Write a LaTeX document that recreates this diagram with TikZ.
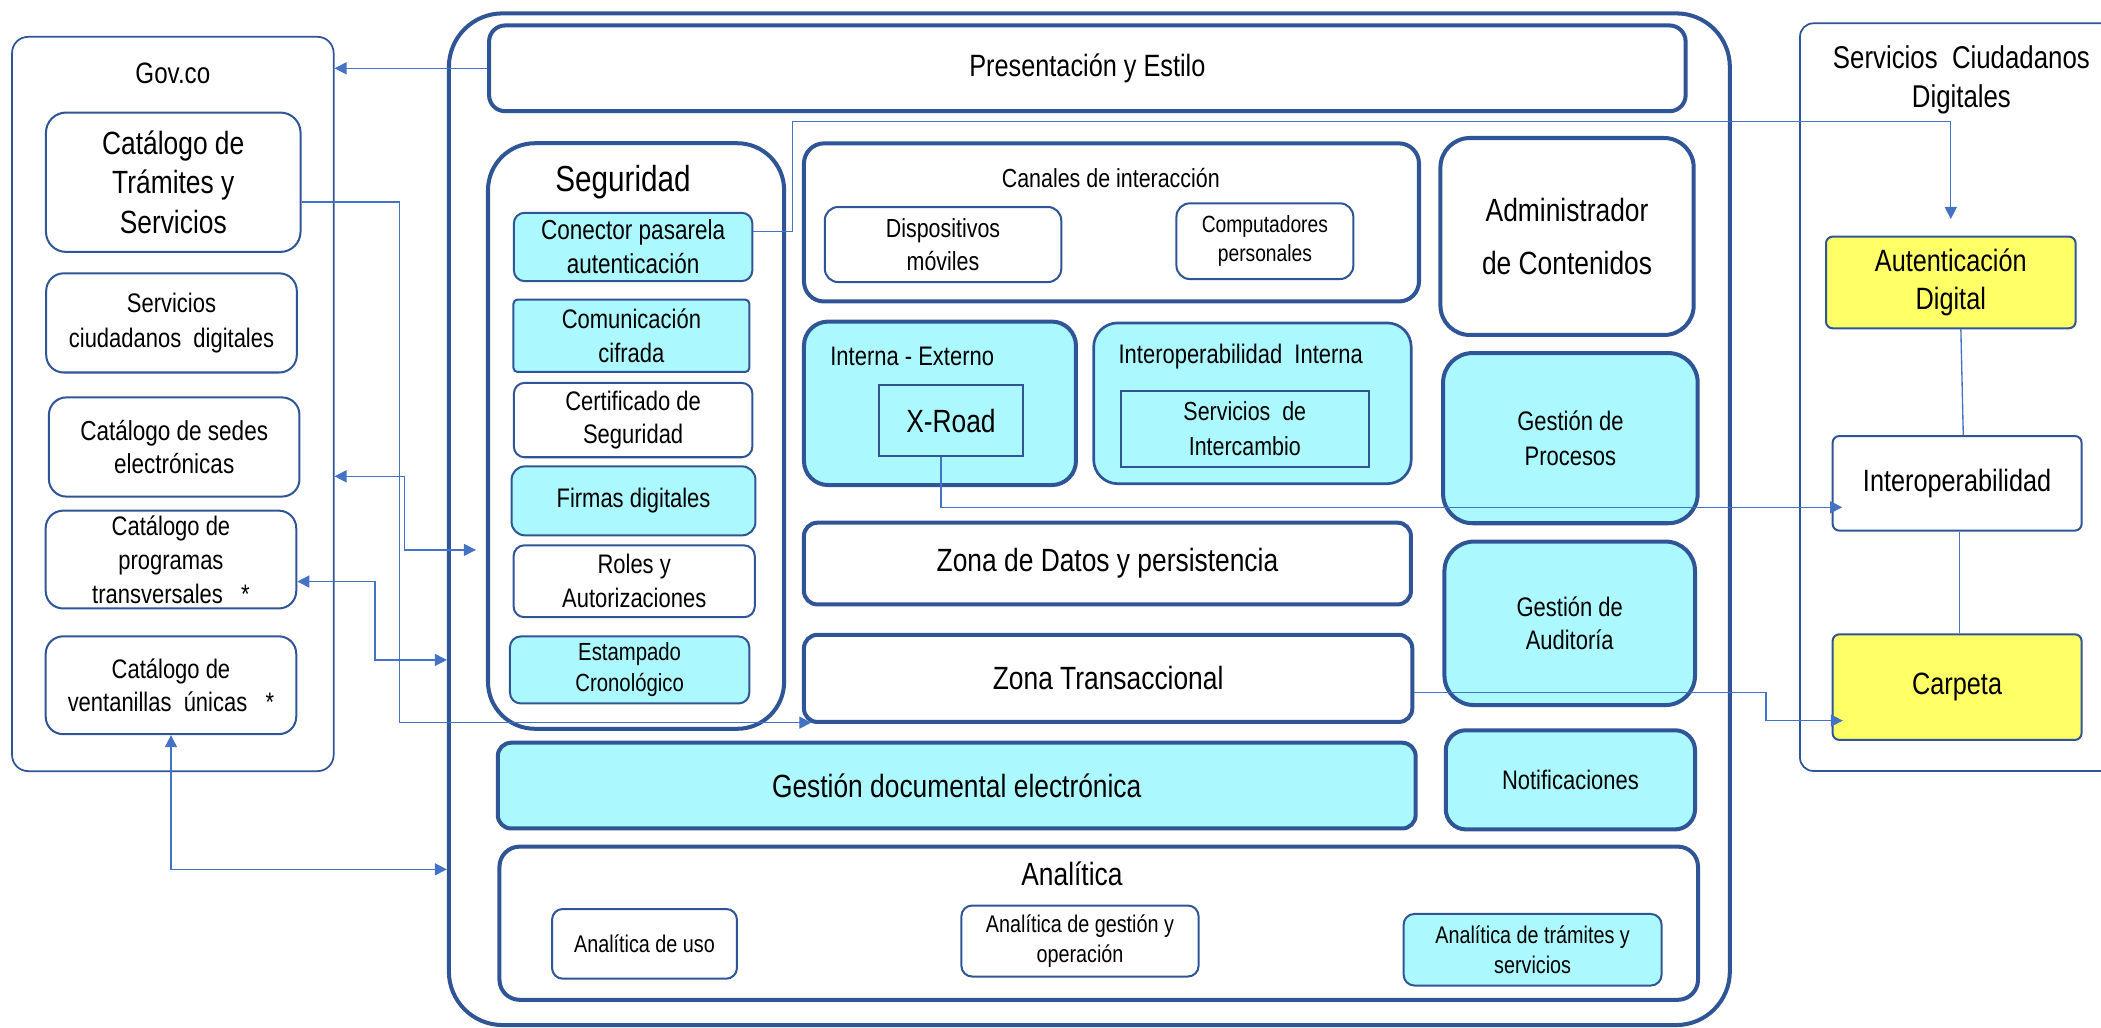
\documentclass[tikz,border=0pt]{standalone}
\usepackage{fontspec}
\setmainfont{Liberation Sans}[FakeStretch=0.82]
\usetikzlibrary{arrows.meta}
\definecolor{borde}{HTML}{2F5597}
\definecolor{linea}{HTML}{4472C4}
\definecolor{celeste}{HTML}{ABF9FF}
\definecolor{amarillo}{HTML}{FFFF66}
\newcommand{\fsz}[2]{\fontsize{#1}{#2}\selectfont}
\tikzset{
  box/.style={draw=borde, line width=1.5pt, rounded corners=8pt, align=center,
    inner sep=0pt, font=\fsz{20}{25}},
  bigbox/.style={box, line width=3pt, rounded corners=12pt, font=\fsz{24}{29}},
  panel/.style={draw=borde, line width=1.3pt, rounded corners=12pt, inner sep=0pt},
  title/.style={align=center, inner sep=0pt},
  tinted/.style={fill=celeste},
  dims/.style 2 args={minimum width=#1, minimum height=#2},
  link/.style={draw=linea, line width=1pt, -{Triangle[length=9pt,width=9pt]}},
  twolink/.style={link, {Triangle[length=9pt,width=9pt]}-{Triangle[length=9pt,width=9pt]}},
  wire/.style={draw=linea, line width=1pt}
}

\begin{document}
\begin{tikzpicture}[x=1pt, y=-1pt]
\clip (0,0) rectangle (1568,767);

% Gov.co
\node[panel, dims={240}{548}] (gov) at (129,301.5) {};
\node[title, font=\fsz{22}{26}] (govtitle) at (129,55) {Gov.co};
\node[box, dims={190}{104}, rounded corners=15pt, font=\fsz{24}{29.5}] (tramites) at (129.3,136) {Catálogo de\\Trámites y\\Servicios};
\node[box, dims={187}{74}, rounded corners=13pt, font=\fsz{20}{26}] (ciudadanos) at (128,241) {Servicios\\ciudadanos\ \ digitales};
\node[box, dims={187}{74}, rounded corners=13pt, font=\fsz{20.5}{25}] (sedes) at (130,333.6) {Catálogo de sedes\\electrónicas};
\node[box, dims={187}{73}, rounded corners=13pt, font=\fsz{20}{25.2}] (programas) at (127.6,417.6) {Catálogo de\\programas\\transversales\ \ \ *};
\node[box, dims={187}{73}, rounded corners=13pt, font=\fsz{20}{24.5}] (ventanillas) at (127.6,511.4) {Catálogo de\\ventanillas\ \ únicas\ \ \ *};

% plataforma
\node[bigbox, dims={956}{755}, rounded corners=40pt] (main) at (813,387.5) {};
\node[bigbox, dims={893}{64}, font=\fsz{23}{28}] (pres) at (811.5,51) {Presentación y Estilo};

% seguridad
\node[bigbox, dims={221}{437}, rounded corners=35pt] (seg) at (474.7,325.4) {};
\node[title, font=\fsz{27}{32}] (segtitle) at (465,135.7) {Seguridad};
\node[box, tinted, dims={178}{51}, font=\fsz{20.5}{25.6}] (conector) at (472.5,184.3) {Conector pasarela\\autenticación};
\node[box, tinted, dims={176}{54}, rounded corners=3pt, font=\fsz{20}{26}] (cifrada) at (471.2,250.6) {Comunicación\\cifrada};
\node[box, dims={178}{55.5}] (certificado) at (472.5,313.5) {Certificado de\\Seguridad};
\node[box, tinted, dims={182}{51.5}, rounded corners=10pt] (firmas) at (472.8,373.8) {Firmas digitales};
\node[box, dims={180}{53.6}, font=\fsz{20}{25.6}] (roles) at (473.3,433.8) {Roles y\\Autorizaciones};
\node[box, tinted, dims={178.6}{50}, font=\fsz{18.5}{23.3}] (estampado) at (469.9,500) {Estampado\\Cronológico};

% canales
\node[bigbox, dims={459}{118}, rounded corners=15pt] (canales) at (829.5,166) {};
\node[title, font=\fsz{19.5}{24}] (canalestitle) at (829,133) {Canales de interacción};
\node[box, dims={176.5}{56}, rounded corners=10pt, font=\fsz{19.5}{25}] (moviles) at (703.8,182.5) {Dispositivos\\móviles};
\node[box, dims={132}{56.5}, rounded corners=10pt, font=\fsz{17.5}{21.5}] (computadores) at (944,180) {Computadores\\personales};

\node[bigbox, dims={189}{147}, rounded corners=22pt, font=\fsz{24}{39}] (admin) at (1169.5,176.5) {Administrador\\de Contenidos};

% interoperabilidad
\node[bigbox, tinted, dims={203}{122}, rounded corners=18pt] (interna) at (701.5,301) {};
\node[title, anchor=west, font=\fsz{20}{24}] (internatitle) at (619.5,266) {Interna - Externo};
\node[box, tinted, dims={108}{53}, rounded corners=0pt, font=\fsz{24}{29}] (xroad) at (709.7,314) {X-Road};
\node[box, tinted, line width=2pt, dims={237}{120}, rounded corners=18pt] (interopint) at (934.7,301) {};
\node[title, font=\fsz{20}{24}] (interoptitle) at (926,266) {Interoperabilidad\ \ Interna};
\node[box, tinted, dims={185}{57}, rounded corners=0pt, font=\fsz{19.5}{26}] (intercambio) at (929,320) {Servicios\ \ de\\Intercambio};

\node[bigbox, tinted, dims={190}{127}, rounded corners=22pt, font=\fsz{20}{26}] (procesos) at (1172,327) {Gestión de\\Procesos};
\node[bigbox, dims={453}{61}, rounded corners=10pt] (datos) at (826.5,420.6) {Zona de Datos y persistencia};
\node[bigbox, tinted, dims={187}{122}, rounded corners=22pt, font=\fsz{20}{25}] (auditoria) at (1171.5,465.2) {Gestión de\\Auditoría};
\node[bigbox, dims={454}{65}, rounded corners=10pt] (zonatrans) at (827,506.3) {Zona Transaccional};
\node[bigbox, tinted, dims={685}{64}, rounded corners=10pt] (documental) at (714,586.3) {Gestión documental electrónica};
\node[bigbox, tinted, dims={186}{74}, rounded corners=15pt, font=\fsz{20}{24}] (notif) at (1172,582) {Notificaciones};

% analitica
\node[bigbox, dims={894.5}{114.3}, rounded corners=15pt] (analitica) at (820,689) {};
\node[title, font=\fsz{24}{29}] (analiticatitle) at (800,652) {Analítica};
\node[box, dims={138}{52}, font=\fsz{18}{23}] (uso) at (481,704.4) {Analítica de uso};
\node[box, dims={177}{53}, font=\fsz{18}{23}] (operacion) at (806,702.3) {Analítica de gestión y\\operación};
\node[box, tinted, dims={192.5}{53.4}, font=\fsz{18}{23}] (tramitesan) at (1143.8,708.8) {Analítica de trámites y\\servicios};

% servicios ciudadanos digitales
\node[panel, dims={246.7}{558}, rounded corners=10pt] (scd) at (1466.7,296.4) {};
\node[title, font=\fsz{23.5}{29}] (scdtitle) at (1463.8,59.4) {Servicios\ \ Ciudadanos\\Digitales};
\node[box, fill=amarillo, dims={186.3}{68.4}, rounded corners=5pt, font=\fsz{23}{28.6}] (auth) at (1455.9,210.8) {Autenticación\\Digital};
\node[box, dims={185.8}{70.6}, rounded corners=5pt, font=\fsz{23}{28}] (interop) at (1460.6,360.7) {Interoperabilidad};
\node[box, fill=amarillo, dims={185.8}{78.8}, rounded corners=5pt, font=\fsz{23}{28}] (carpeta) at (1460.6,512.8) {Carpeta};

% conectores
\draw[link] (pres.west) -- (pres.west -| gov.east);
\draw[link] ([yshift=-14.7pt]tramites.east) -- ++(73,0) |- ([xshift=7pt,yshift=1pt]zonatrans.south west);
\draw[twolink] ([yshift=-54pt]gov.east) -- ++(52,0) |- ([xshift=-7.5pt,yshift=-85pt]seg.west);
\draw[twolink] ([yshift=-16.4pt]programas.east) -- ++(58,0) |- ([yshift=-105pt]main.west);
\draw[twolink] (ventanillas.south) |- ([yshift=-261.3pt]main.west);
\draw[link] ([yshift=11.4pt]conector.east) -- ++(29.3,0) |- ([yshift=85.3pt]auth.north) -- ([yshift=12.4pt]auth.north);
\draw[link] ([xshift=-7.5pt]xroad.south) |- ([xshift=7.9pt,yshift=-17.9pt]interop.west);
\draw[link] ([yshift=-10.5pt]zonatrans.east) -- ++(262.4,0) |- ([xshift=8.4pt,yshift=-25pt]carpeta.west);
\draw[wire] ([xshift=7.5pt]auth.south) -- ([xshift=4.6pt]interop.north);
\draw[wire] ([xshift=1.8pt]interop.south) -- ([xshift=1.8pt]carpeta.north);
\end{tikzpicture}
\end{document}
